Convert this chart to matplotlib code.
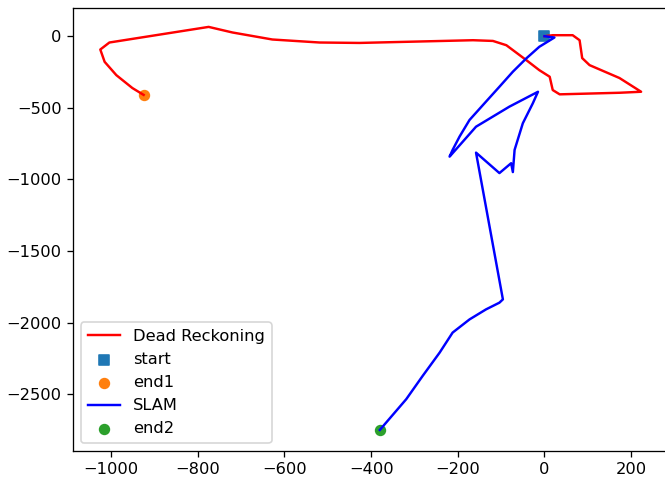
import matplotlib
matplotlib.use('Agg')
import matplotlib.pyplot as plt

# Dead reckoning trajectory
dr_x = [0, 19, 65, 81, 87, 104, 173, 223, 173, 35, 19, 12, -12, -42, -88, -119,
        -165, -427, -519, -628, -720, -775, -1004, -1025, -1015, -988, -951, -925]
dr_y = [0, 7, 7, -28, -153, -202, -292, -388, -395, -406, -376, -283, -237, -167,
        -63, -33, -28, -47, -44, -23, 26, 65, -44, -93, -179, -272, -362, -410]

# SLAM trajectory
slam_x = [0, 23, -12, -42, -73, -104, -135, -173, -196, -212, -219, -158, -81, -15,
          -27, -50, -69, -73, -77, -104, -158, -96, -104, -135, -173, -212, -242,
          -281, -319, -380]
slam_y = [0, -9, -74, -155, -248, -353, -457, -585, -701, -794, -841, -632, -492,
          -388, -469, -608, -794, -949, -887, -956, -813, -1838, -1861, -1908,
          -1978, -2070, -2210, -2372, -2535, -2750]

start = (0, 0)
end1 = (-925, -410)
end2 = (-380, -2750)

dpi = 117
fig = plt.figure(figsize=(665 / dpi, 485 / dpi), dpi=dpi)
ax = fig.add_axes([73 / 665, 1 - 451 / 485, (668 - 73) / 665, (451 - 8) / 485])

ax.plot(dr_x, dr_y, color='red', label='Dead Reckoning')
ax.scatter(start[0], start[1], marker='s', label='start')
ax.scatter(end1[0], end1[1], label='end1')
ax.plot(slam_x, slam_y, color='blue', label='SLAM')
ax.scatter(end2[0], end2[1], label='end2')

ax.set_xlim(-1088, 285)
ax.set_ylim(-2897, 197)
ax.legend(loc='lower left')

fig.savefig('out.png', dpi=dpi)
